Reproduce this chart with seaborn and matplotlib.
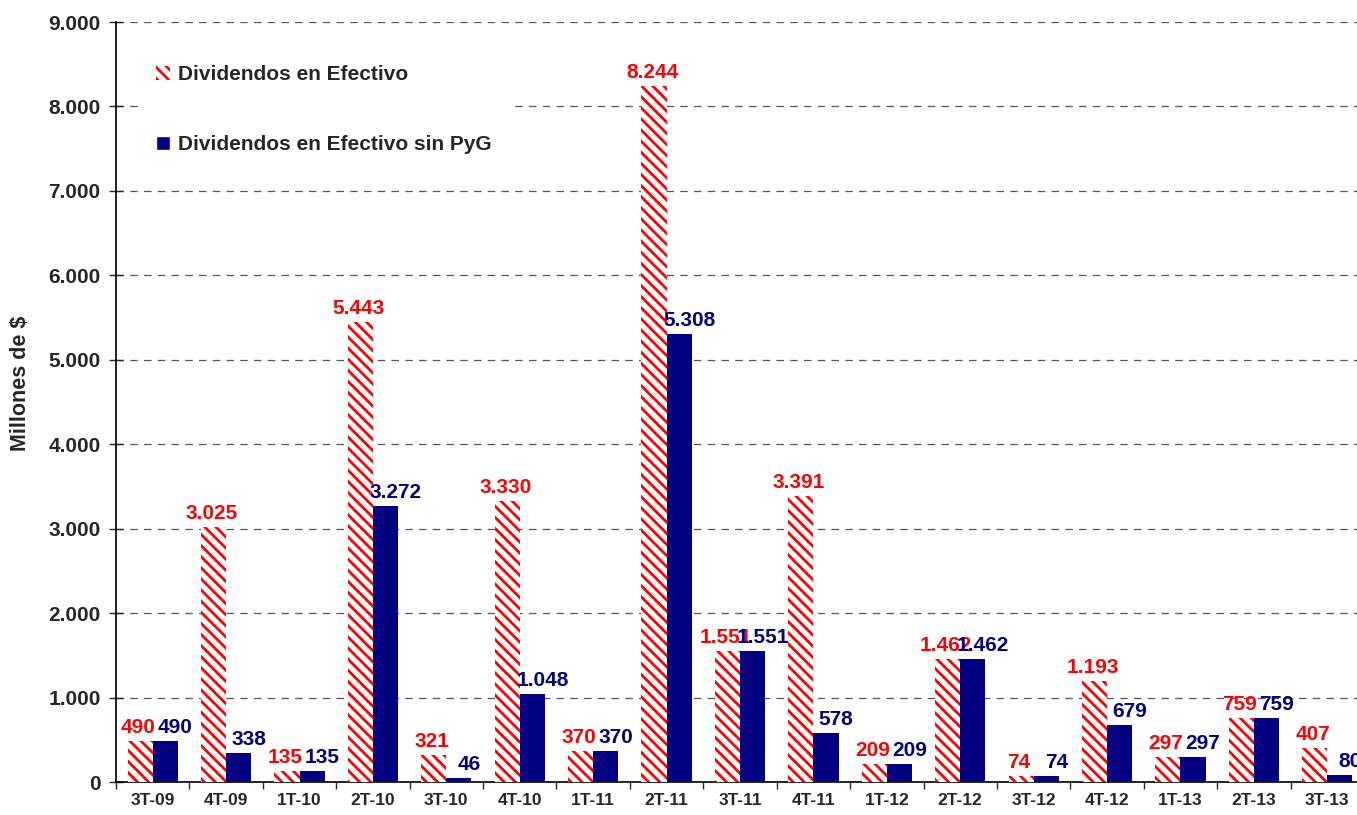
import matplotlib
matplotlib.use("Agg")
import matplotlib.pyplot as plt
import matplotlib.ticker as mticker
import numpy as np
import pandas as pd
import seaborn as sns

# Data
periodos = ["3T-09", "4T-09", "1T-10", "2T-10", "3T-10", "4T-10", "1T-11", "2T-11", "3T-11",
            "4T-11", "1T-12", "2T-12", "3T-12", "4T-12", "1T-13", "2T-13", "3T-13"]
dividendos = [490, 3025, 135, 5443, 321, 3330, 370, 8244, 1551, 3391, 209, 1462, 74, 1193, 297, 759, 407]
dividendos_sin_pyg = [490, 338, 135, 3272, 46, 1048, 370, 5308, 1551, 578, 209, 1462, 74, 679, 297, 759, 80]
series = ["Dividendos en Efectivo", "Dividendos en Efectivo sin PyG"]

df = pd.DataFrame({
    "Periodo": periodos * 2,
    "Valor": dividendos + dividendos_sin_pyg,
    "Serie": [series[0]] * len(periodos) + [series[1]] * len(periodos),
})

sns.set_style("white")
plt.rcParams["font.family"] = ["Liberation Sans", "DejaVu Sans"]
plt.rcParams["hatch.linewidth"] = 2.0
plt.rcParams["hatch.color"] = "#FF0000"

fig = plt.figure(figsize=(13.57, 8.15), dpi=100)
ax = fig.add_axes([116 / 1357, 33 / 815, 1248 / 1357, 760 / 815])

sns.barplot(data=df, x="Periodo", y="Valor", hue="Serie", order=periodos, hue_order=series,
            palette=["white", "#000080"], width=0.685, gap=0, saturation=1, ax=ax, zorder=3)

n = len(periodos)
red_bars = ax.patches[:n]
blue_bars = ax.patches[n:2 * n]
for p in red_bars:
    p.set_hatch("\\\\\\")
    p.set_edgecolor("#FF0000")
    p.set_linewidth(0)
for p in blue_bars:
    p.set_edgecolor("#000080")
    p.set_linewidth(0)

def fmt(v):
    return f"{v:,.0f}".replace(",", ".")

for p, v in zip(red_bars, dividendos):
    ax.annotate(fmt(v), (p.get_x() + p.get_width() / 2, v), xytext=(-2, 4),
                textcoords="offset pixels", ha="center", va="bottom",
                color="#FF0000", fontsize=15, fontweight="bold", zorder=5)
for p, v in zip(blue_bars, dividendos_sin_pyg):
    ax.annotate(fmt(v), (p.get_x() + p.get_width() / 2, v), xytext=(10, 4),
                textcoords="offset pixels", ha="center", va="bottom",
                color="#000080", fontsize=15, fontweight="bold", zorder=5)

ax.set_ylim(0, 9000)
ax.set_xlim(-0.5, n - 0.5)
ax.yaxis.set_major_locator(mticker.MultipleLocator(1000))
ax.yaxis.set_major_formatter(mticker.FuncFormatter(lambda v, _: fmt(v)))
ax.yaxis.grid(True, linestyle=(0, (6, 5)), color="#555555", linewidth=0.9, zorder=0)
ax.set_axisbelow(True)

ax.set_xlabel("")
ax.set_ylabel("Millones de $", fontsize=15.5, fontweight="bold")
ax.yaxis.set_label_coords(-0.068, 0.525)
ax.tick_params(axis="y", direction="inout", length=10, width=1, labelsize=15, left=True, pad=6)
ax.tick_params(axis="x", which="major", length=0, labelsize=12.5, pad=8)
ax.set_xticks(np.arange(-0.5, n, 1), minor=True)
ax.tick_params(axis="x", which="minor", direction="out", length=5, width=1, bottom=True)
for lab in ax.get_xticklabels() + ax.get_yticklabels():
    lab.set_fontweight("bold")

for s in ["top", "right"]:
    ax.spines[s].set_visible(False)
for s in ["left", "bottom"]:
    ax.spines[s].set_color("black")
    ax.spines[s].set_linewidth(1.2)

leg = ax.legend(loc="upper left", bbox_to_anchor=(129 / 1357, 1 - 38 / 815),
                bbox_transform=fig.transFigure, frameon=True,
                handlelength=0.67, handleheight=0.67, handletextpad=0.4, labelspacing=2.45,
                borderpad=0.8, prop={"weight": "bold", "size": 15})
leg.get_frame().set_facecolor("white")
leg.get_frame().set_edgecolor("none")
leg.get_frame().set_alpha(1)
h0 = leg.legend_handles[0]
h0.set_hatch("\\\\\\")
h0.set_edgecolor("#FF0000")
h0.set_linewidth(0)
leg.set_zorder(6)

fig.savefig("out.png", dpi=100)
